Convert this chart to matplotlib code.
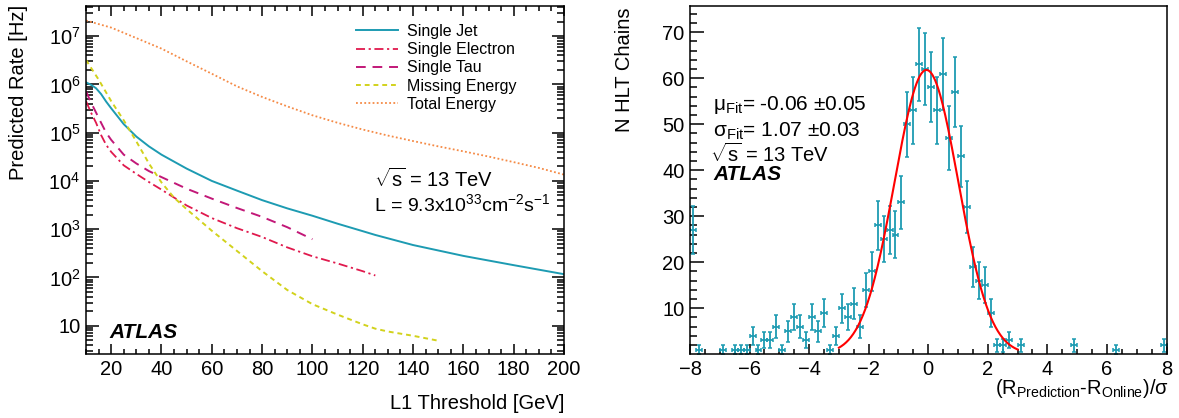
import numpy as np
import matplotlib
matplotlib.use("Agg")
from matplotlib import pyplot as plt
from matplotlib.ticker import LogLocator, MultipleLocator, FuncFormatter, NullFormatter

plt.rcParams['font.family'] = ['Liberation Sans', 'DejaVu Sans']
plt.rcParams['mathtext.fontset'] = 'custom'
plt.rcParams['mathtext.rm'] = 'Liberation Sans'
plt.rcParams['mathtext.it'] = 'Liberation Sans:italic'
plt.rcParams['mathtext.bf'] = 'Liberation Sans:bold'

# ---- left panel: L1 rate vs threshold ----
jet_thr = [10, 12, 14, 16, 18, 20, 25, 30, 35, 40, 50, 60, 70, 80, 90, 100,
           110, 120, 125, 140, 160, 180, 200]
jet_rate = [1.10e6, 9.8e5, 8.3e5, 6.3e5, 4.4e5, 3.2e5, 1.5e5, 8.3e4, 5.2e4,
            3.5e4, 1.8e4, 1.0e4, 6.3e3, 4.0e3, 2.7e3, 1.9e3, 1.3e3, 910, 760,
            470, 280, 180, 117]

ele_thr = [10, 12, 14, 16, 18, 20, 25, 30, 35, 40, 50, 60, 70, 80, 90, 100,
           110, 120, 125]
ele_rate = [4.5e5, 2.6e5, 1.6e5, 8.9e4, 5.6e4, 4.0e4, 2.1e4, 1.4e4, 9.5e3,
            6.6e3, 3.1e3, 1.7e3, 1.05e3, 690, 420, 275, 195, 135, 110]

tau_thr = [10, 12, 14, 16, 18, 20, 25, 30, 35, 40, 50, 60, 70, 80, 90, 100]
tau_rate = [7.2e5, 4.2e5, 2.6e5, 1.6e5, 1.0e5, 7.1e4, 3.5e4, 2.3e4, 1.6e4,
            1.2e4, 6.9e3, 4.3e3, 2.75e3, 1.8e3, 1.1e3, 620]

met_thr = [10, 15, 20, 25, 30, 35, 40, 45, 50, 60, 70, 80, 90, 100, 110,
           120, 125, 130, 140, 150]
met_rate = [3.2e6, 1.26e6, 4.5e5, 1.8e5, 6.6e4, 2.3e4, 9.3e3, 4.5e3, 2.6e3,
            930, 355, 135, 55, 28, 17, 10.7, 8.7, 7.6, 6.2, 4.9]

te_thr = [10, 20, 30, 40, 50, 60, 70, 80, 90, 100, 110, 120, 130, 140, 150,
          160, 170, 180, 190, 200]
te_rate = [2.1e7, 1.5e7, 9.1e6, 5.5e6, 3.0e6, 1.66e6, 9.1e5, 5.5e5, 3.5e5,
           2.29e5, 1.6e5, 1.16e5, 8.7e4, 6.7e4, 5.2e4, 4.1e4, 3.2e4, 2.45e4,
           1.86e4, 1.35e4]

thr_ticks = [20, 40, 60, 80, 100, 120, 140, 160, 180, 200]
rate_ticks = [1e1, 1e2, 1e3, 1e4, 1e5, 1e6, 1e7]

# ---- right panel: pull distribution ----
pull_x = [-7.9, -7.7, -6.9, -6.5, -6.3, -6.1, -5.9, -5.7, -5.5, -5.3, -5.1,
          -4.9, -4.7, -4.5, -4.3, -4.1, -3.9, -3.7, -3.5, -3.3, -3.1, -2.9,
          -2.7, -2.5, -2.3, -2.1, -1.9, -1.7, -1.5, -1.3, -1.1, -0.9, -0.7,
          -0.5, -0.3, -0.1, 0.1, 0.3, 0.5, 0.7, 0.9, 1.1, 1.3, 1.5, 1.7, 1.9,
          2.1, 2.3, 2.5, 2.7, 3.1, 4.9, 6.3, 7.9]
pull_n = [27, 1, 1, 1, 1, 1, 4, 1, 3, 3, 6, 1, 5, 8, 6, 3, 8, 5, 9, 1, 4, 10,
          8, 11, 6, 14, 18, 28, 25, 27, 26, 33, 50, 53, 63, 62, 58, 53, 61,
          47, 57, 43, 32, 19, 16, 15, 9, 2, 2, 3, 2, 2, 1, 2]
bin_half = 0.1
fit_mu, fit_sigma, fit_amp = -0.06, 1.07, 61.8
fit_range = (-3.0, 3.0)
pull_xticks = [-8, -6, -4, -2, 0, 2, 4, 6, 8]
pull_yticks = [10, 20, 30, 40, 50, 60, 70]

W, H = 1179, 418
teal = '#1d9bb2'


def px(x, y):
    return x / W, 1 - y / H


fig = plt.figure(figsize=(W / 100, H / 100), dpi=100)

# left panel
ax1 = fig.add_axes([86 / W, 1 - 354 / H, 478 / W, 348 / H])
ax1.plot(jet_thr, jet_rate, color=teal, lw=1.4, ls='-', label='Single Jet')
ax1.plot(ele_thr, ele_rate, color='#e0194d', lw=1.3, ls=(0, (5, 2, 1.2, 2)),
         label='Single Electron')
ax1.plot(tau_thr, tau_rate, color='#c21878', lw=1.4, ls=(0, (5, 3.5)),
         label='Single Tau')
ax1.plot(met_thr, met_rate, color='#d2d21c', lw=1.4, ls=(0, (2.5, 2)),
         label='Missing Energy')
ax1.plot(te_thr, te_rate, color='#f58a45', lw=1.3, ls=(0, (1, 1.3)),
         label='Total Energy')
ax1.set_yscale('log')
ax1.set_xlim(10, 200)
ax1.set_ylim(2.6, 4.2e7)
ax1.set_xticks(thr_ticks)
ax1.xaxis.set_minor_locator(MultipleLocator(5))
ax1.set_yticks(rate_ticks)
ax1.yaxis.set_minor_locator(LogLocator(base=10, subs=np.arange(2, 10), numticks=20))
ax1.yaxis.set_minor_formatter(NullFormatter())


def log_fmt(v, pos):
    e = int(round(np.log10(v)))
    if e == 1:
        return '10'
    return r'10$^{%d}$' % e


ax1.yaxis.set_major_formatter(FuncFormatter(log_fmt))
ax1.tick_params(axis='both', which='both', direction='in', top=True, right=True,
                labelsize=14.5, width=1.1)
ax1.tick_params(axis='x', which='major', length=7, pad=4)
ax1.tick_params(axis='x', which='minor', length=3.5)
ax1.tick_params(axis='y', which='major', length=9, pad=4)
ax1.tick_params(axis='y', which='minor', length=5)
for s in ax1.spines.values():
    s.set_linewidth(1.1)

leg = ax1.legend(loc='upper left', bbox_to_anchor=((356 - 86) / 478, (354 - 24) / 348),
                 frameon=False, fontsize=11.5, handlelength=2.6, handletextpad=0.6,
                 labelspacing=0.2, borderpad=0, borderaxespad=0)

fig.text(*px(374, 187), r'$\sqrt{\mathrm{s}}$ = 13 TeV', fontsize=14.5, va='baseline')
fig.text(*px(374, 211), r'L = 9.3x10$^{33}$cm$^{-2}$s$^{-1}$', fontsize=14,
         va='baseline')
fig.text(*px(109, 338), 'ATLAS', fontsize=15, fontweight='bold',
         fontstyle='italic', va='baseline')
fig.text(*px(19, 5), 'Predicted Rate [Hz]', fontsize=14.5, rotation=90,
         ha='center', va='top')
fig.text(*px(564, 409), 'L1 Threshold [GeV]', fontsize=14.5, ha='right',
         va='baseline')

# right panel
ax2 = fig.add_axes([690 / W, 1 - 354 / H, 476.5 / W, 348 / H])
pull_err = np.sqrt(np.array(pull_n, dtype=float))
ax2.errorbar(pull_x, pull_n, xerr=bin_half, yerr=pull_err, fmt='none',
             ecolor=teal, elinewidth=1.3, capsize=1.4, capthick=1.1)
xf = np.linspace(fit_range[0], fit_range[1], 300)
yf = fit_amp * np.exp(-0.5 * ((xf - fit_mu) / fit_sigma) ** 2)
ax2.plot(xf, yf, color='#ff0000', lw=1.5)
ax2.set_xlim(-8, 8)
ax2.set_ylim(0.05, 75.7)
ax2.set_xticks(pull_xticks)
ax2.set_yticks(pull_yticks)
ax2.xaxis.set_minor_locator(MultipleLocator(0.5))
ax2.yaxis.set_minor_locator(MultipleLocator(2))
ax2.tick_params(axis='both', which='both', direction='in', labelsize=14.5,
                width=1.1)
ax2.tick_params(axis='x', which='major', length=7, pad=4)
ax2.tick_params(axis='x', which='minor', length=3.5)
ax2.tick_params(axis='y', which='major', length=10, pad=4)
ax2.tick_params(axis='y', which='minor', length=5)
for s in ax2.spines.values():
    s.set_linewidth(1.1)

fig.text(*px(713, 110), r'μ$_{\mathrm{Fit}}$= -0.06 ±0.05', fontsize=15,
         va='baseline')
fig.text(*px(713, 137), r'σ$_{\mathrm{Fit}}$= 1.07 ±0.03', fontsize=15,
         va='baseline')
fig.text(*px(710, 162), r'$\sqrt{\mathrm{s}}$ = 13 TeV', fontsize=14.5, va='baseline')
fig.text(*px(713, 180), 'ATLAS', fontsize=15, fontweight='bold',
         fontstyle='italic', va='baseline')
fig.text(*px(624, 7), 'N HLT Chains', fontsize=14.5, rotation=90,
         ha='center', va='top')
fig.text(*px(1169, 394), r'(R$_{\mathrm{Prediction}}$-R$_{\mathrm{Online}}$)/σ',
         fontsize=14.5, ha='right', va='baseline')

fig.savefig('out.png', dpi=100)
